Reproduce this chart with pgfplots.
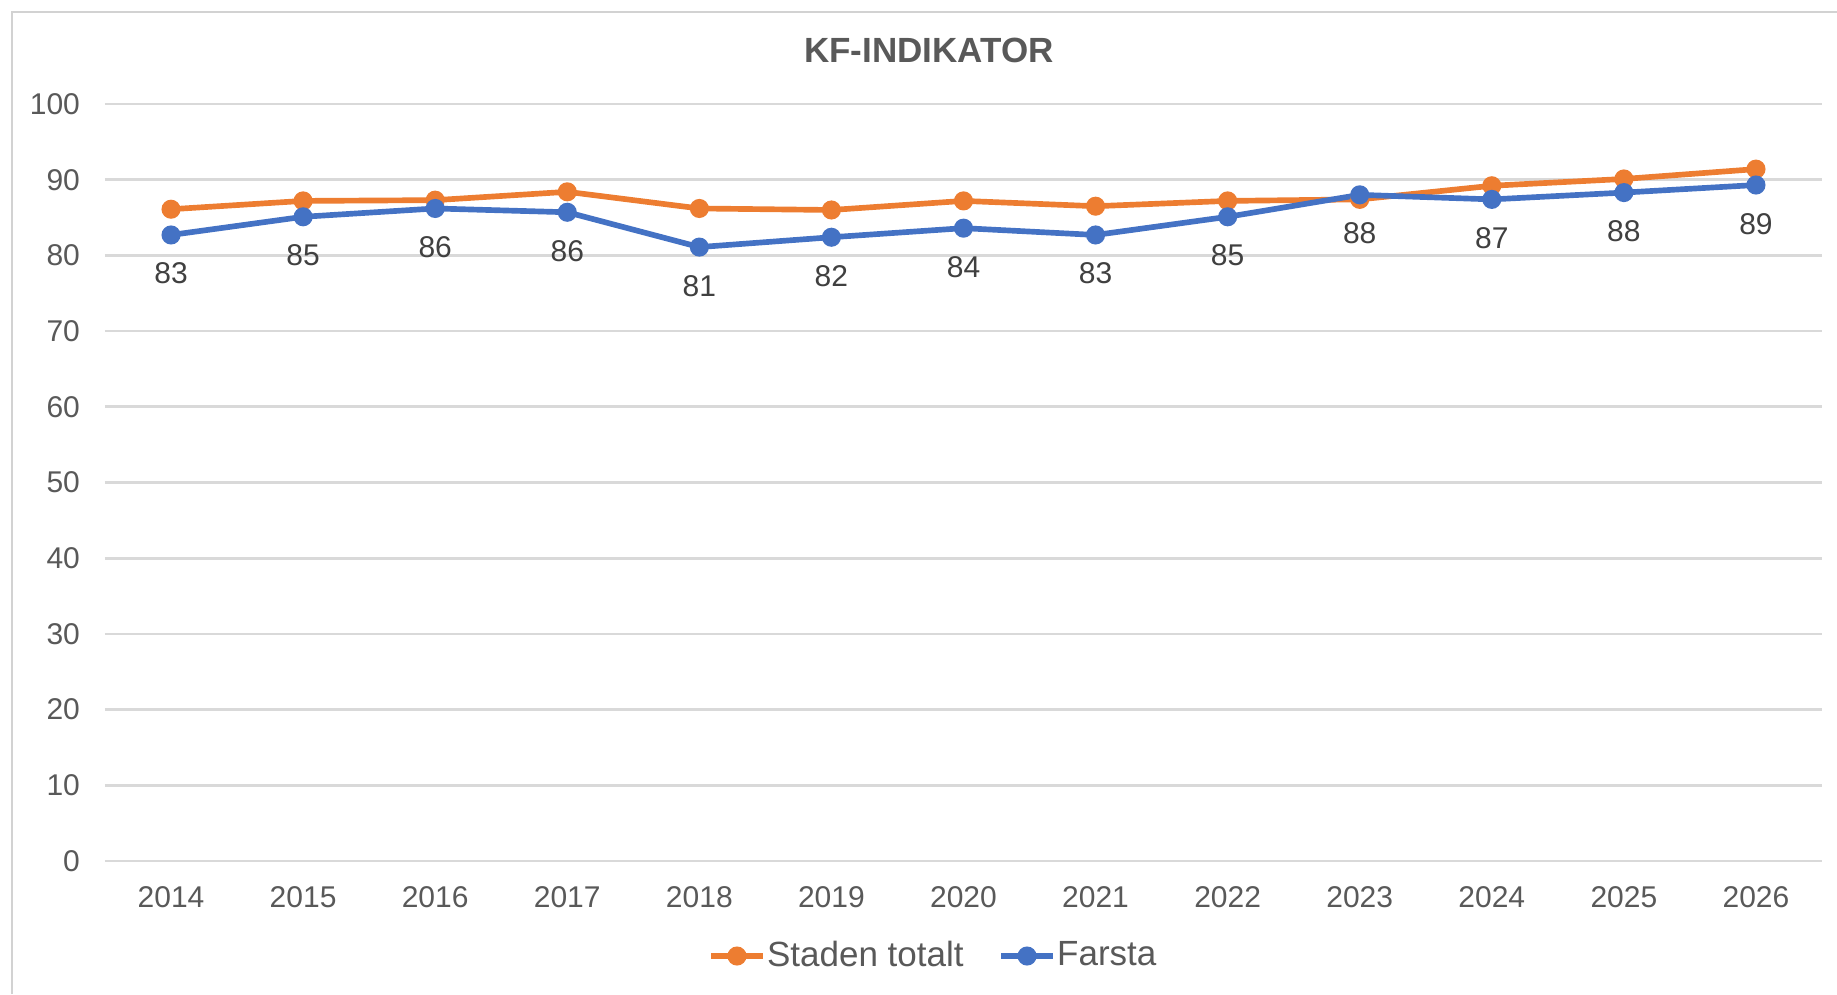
\documentclass[border=0pt]{standalone}
\usepackage{pgfplots}
\pgfplotsset{compat=1.18}
\usepackage{fontspec}
\setmainfont{Liberation Sans}

\definecolor{xlorange}{HTML}{ED7D31}
\definecolor{xlblue}{HTML}{4472C4}
\definecolor{gridgray}{HTML}{D9D9D9}
\definecolor{txtgray}{HTML}{595959}
\definecolor{lblgray}{HTML}{404040}

\begin{document}
\begin{tikzpicture}
    % chart area frame (left and top edges are visible)
    \draw[gray!35, line width=0.6pt] (3.5pt,0pt) -- (3.5pt,294.7pt) -- (551.1pt,294.7pt);

    \begin{axis}[
        at={(31.5pt,39.9pt)}, anchor=south west,
        scale only axis,
        width=515.1pt, height=227.1pt,
        xmin=2013.5, xmax=2026.5,
        ymin=0, ymax=100,
        xtick={2014,2015,...,2026},
        ytick={0,10,...,100},
        /pgf/number format/1000 sep={},
        /pgf/number format/assume math mode=true,
        axis line style={draw=none},
        major tick length=0pt,
        ymajorgrids=true,
        grid style={gridgray, line width=0.8pt},
        tick label style={font=\fontsize{9}{10}\selectfont, text=txtgray},
        yticklabel style={xshift=-4pt},
        xticklabel style={yshift=-4pt},
        legend style={
            at={(0.4824,-0.1255)}, anchor=center,
            legend columns=2, draw=none, fill=none,
            font=\fontsize{10.5}{12}\selectfont, text=txtgray,
            nodes={inner xsep=0.5pt},
            /tikz/every even column/.append style={column sep=10pt}
        },
        legend cell align=left,
        legend image code/.code={
            \draw[#1, mark repeat=2, mark phase=2] plot coordinates {(0cm,0cm) (0.27cm,0cm) (0.54cm,0cm)};
        },
        every node near coord/.append style={
            font=\fontsize{9}{10}\selectfont, text=lblgray,
            anchor=center, yshift=-11.6pt
        }
    ]

    % --- Staden totalt ---
    \addplot[xlorange, line width=1.7pt, mark=*, mark size=2pt] coordinates {
        (2014,86.1) (2015,87.2) (2016,87.3) (2017,88.4) (2018,86.2)
        (2019,86.0) (2020,87.2) (2021,86.5) (2022,87.2) (2023,87.4)
        (2024,89.2) (2025,90.1) (2026,91.4)
    };

    % --- Farsta, with its values written below the points ---
    \addplot[xlblue, line width=1.7pt, mark=*, mark size=2pt,
        nodes near coords, point meta=explicit symbolic] coordinates {
        (2014,82.7) [83] (2015,85.1) [85] (2016,86.2) [86] (2017,85.7) [86]
        (2018,81.1) [81] (2019,82.4) [82] (2020,83.6) [84] (2021,82.7) [83]
        (2022,85.1) [85] (2023,88.0) [88] (2024,87.4) [87] (2025,88.3) [88]
        (2026,89.3) [89]
    };

    \legend{Staden totalt, Farsta}
    \end{axis}

    \node[font=\bfseries\fontsize{10.5}{12}\selectfont, text=txtgray] at (278.7pt,283.2pt) {KF-INDIKATOR};

    \pgfresetboundingbox
    \path (0pt,0pt) rectangle (551.1pt,298.2pt);
\end{tikzpicture}
\end{document}
